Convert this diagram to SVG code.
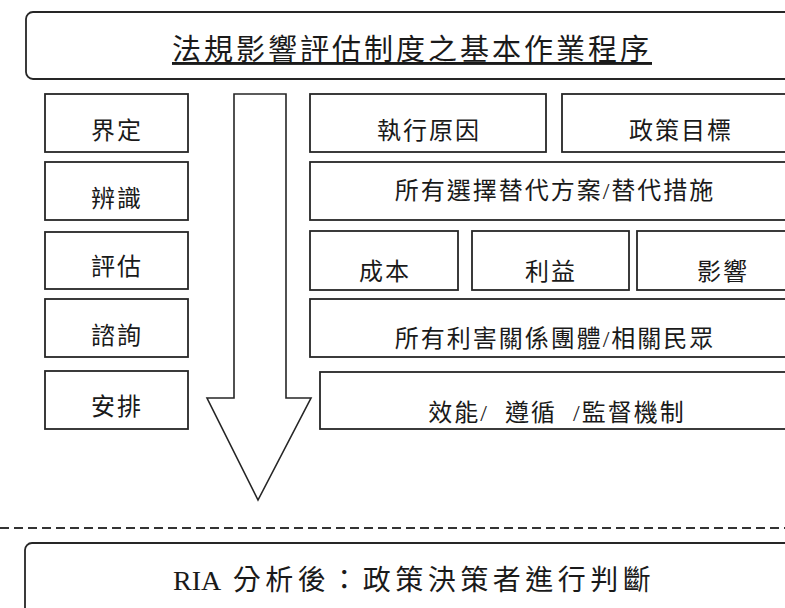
<svg xmlns="http://www.w3.org/2000/svg" width="785" height="608" viewBox="0 0 785 608">
<style>
.box{fill:#fff;stroke:#262626;stroke-width:1.8}
.t{font-family:"Liberation Serif","Noto Sans CJK TC",serif;font-size:24px;fill:#1a1a1a;text-anchor:middle;letter-spacing:2px}
.big{font-size:29px;letter-spacing:3px}
.arrow{fill:#fff;stroke:#262626;stroke-width:1.6;stroke-linejoin:miter}
.sep{stroke:#333;stroke-width:2;stroke-dasharray:9 5;fill:none}
</style>
<rect width="785" height="608" fill="#fff"/>
<g id="connectors">
<polygon class="arrow" points="234,94 286,94 286,398 311,398 258,500 207,398 234,398"/>
<line class="sep" x1="0" y1="528" x2="785" y2="528"/>
</g>
<g id="title">
<rect class="box" x="26" y="12" width="800" height="67" rx="7"/>
<text class="t big" x="412" y="60" text-decoration="underline">法規影響評估制度之基本作業程序</text>
</g>
<g id="n-define"><rect class="box" x="45" y="94" width="143" height="58"/><text class="t" x="117" y="139">界定</text></g>
<g id="n-identify"><rect class="box" x="45" y="162" width="143" height="58"/><text class="t" x="117" y="207">辨識</text></g>
<g id="n-assess"><rect class="box" x="45" y="232" width="143" height="57"/><text class="t" x="117" y="275">評估</text></g>
<g id="n-consult"><rect class="box" x="45" y="299" width="143" height="58"/><text class="t" x="117" y="344">諮詢</text></g>
<g id="n-arrange"><rect class="box" x="45" y="371" width="143" height="58"/><text class="t" x="117" y="415">安排</text></g>
<g id="n-reason"><rect class="box" x="310" y="94" width="236" height="58"/><text class="t" x="429" y="139">執行原因</text></g>
<g id="n-goal"><rect class="box" x="562" y="94" width="236" height="58"/><text class="t" x="681" y="139">政策目標</text></g>
<g id="n-alternatives"><rect class="box" x="310" y="162" width="488" height="58"/><text class="t" x="555" y="199">所有選擇替代方案/替代措施</text></g>
<g id="n-cost"><rect class="box" x="310" y="231" width="148" height="59"/><text class="t" x="385" y="280">成本</text></g>
<g id="n-benefit"><rect class="box" x="472" y="231" width="157" height="59"/><text class="t" x="551" y="280">利益</text></g>
<g id="n-impact"><rect class="box" x="637" y="231" width="170" height="59"/><text class="t" x="723" y="280">影響</text></g>
<g id="n-stakeholders"><rect class="box" x="310" y="299" width="488" height="58"/><text class="t" x="555" y="347">所有利害關係團體/相關民眾</text></g>
<g id="n-mechanism"><rect class="box" x="320" y="372" width="478" height="57"/><text class="t" x="557" y="421" xml:space="preserve">效能/  遵循  /監督機制</text></g>
<g id="decision">
<rect class="box" x="25" y="543" width="800" height="100" rx="7"/>
<text class="t" x="173" y="590" style="font-size:28px;letter-spacing:0;text-anchor:start">RIA <tspan dx="6" style="letter-spacing:4.5px">分析後：政策決策者進行判斷</tspan></text>
</g>
</svg>
